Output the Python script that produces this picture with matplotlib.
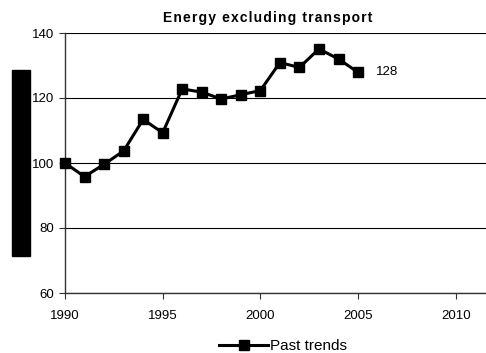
import matplotlib
matplotlib.use('Agg')
import matplotlib.pyplot as plt
from matplotlib.patches import Rectangle

plt.rcParams['font.family'] = ['Liberation Sans', 'DejaVu Sans']

years = [1990, 1991, 1992, 1993, 1994, 1995, 1996, 1997, 1998, 1999,
         2000, 2001, 2002, 2003, 2004, 2005]
values = [100, 95.8, 99.6, 103.7, 113.4, 109.3, 122.8, 121.8, 119.7, 121.0,
          122.3, 130.9, 129.4, 135.1, 132.0, 127.9]
end_label = '128'
title = 'Energy excluding transport'

fig = plt.figure(figsize=(4.86, 3.53), dpi=100)
ax = fig.add_axes([65 / 486, 1 - 293 / 353, (486 - 65) / 486, (293 - 33) / 353])

ax.plot(years, values, color='black', lw=2.2, marker='s', ms=6.5,
        label='Past trends', clip_on=False, zorder=3)
ax.text(years[-1] + 0.9, values[-1], end_label, fontsize=9.5,
        va='center', ha='left')

ax.set_xlim(1990, 2011.55)
ax.set_ylim(60, 140)
ax.set_xticks([1990, 1995, 2000, 2005, 2010])
ax.set_yticks([60, 80, 100, 120, 140])
ax.tick_params(labelsize=9.5, length=4, width=0.8, color='#333333')
ax.tick_params(axis='x', pad=8)
ax.tick_params(axis='y', pad=4)
ax.yaxis.grid(True, color='black', lw=0.8)
ax.set_axisbelow(True)
for s in ['top', 'right']:
    ax.spines[s].set_visible(False)
for s in ['left', 'bottom']:
    ax.spines[s].set_color('#333333')
    ax.spines[s].set_linewidth(1.0)

# widen the title with hair spaces between letters
spaced = '\u200a'.join(title)
fig.text(268 / 486, 1 - 18 / 353, spaced,
         fontsize=10, fontweight='bold', ha='center', va='center')

# solid block over the y-axis label area
fig.patches.append(Rectangle((12 / 486, 1 - 256 / 353), 18 / 486, 186 / 353,
                             transform=fig.transFigure, color='black'))

fig.legend(loc='center', bbox_to_anchor=(283 / 486, 1 - 346 / 353),
           frameon=False, fontsize=11, handlelength=3.2, handletextpad=0.1,
           borderaxespad=0, borderpad=0)

fig.savefig('out.png', dpi=100)
